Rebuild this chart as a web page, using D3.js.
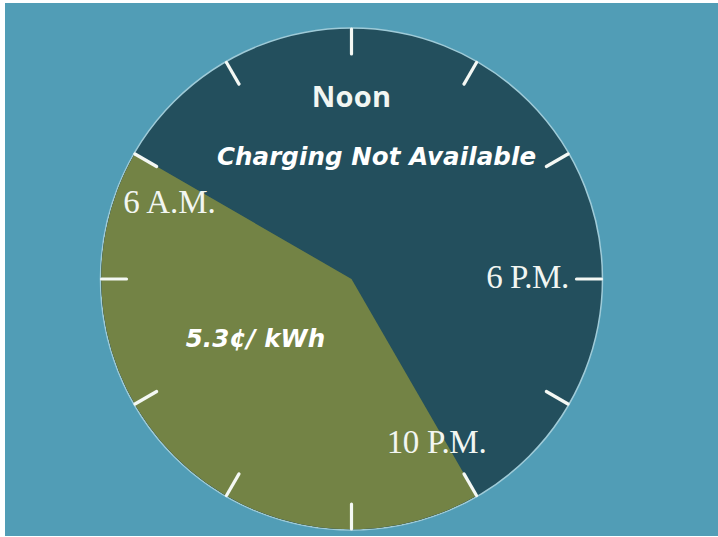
<!DOCTYPE html>
<html><head><meta charset="utf-8">
<script src="https://cdn.jsdelivr.net/npm/d3@7"></script>
<style>html,body{margin:0;padding:0;background:#fff;}svg{display:block;}</style>
</head><body>
<svg id="c" width="718" height="537"></svg>
<script>
// ---- data ----
const segmentNames = ["Charging Not Available", "5.3¢/ kWh"];
const segmentStart = [8, 22];   // hour of day
const segmentEnd   = [22, 32];  // 32 = 8 A.M. next day
const tickHours = [0, 2, 4, 6, 8, 10, 12, 14, 16, 18, 20, 22];
const hourLabels = ["Noon", "6 P.M.", "10 P.M.", "6 A.M."];
const hourLabelHours = [12, 18, 22, 6];

// ---- layout ----
const W = 718, H = 537;
const cx = 351.5, cy = 279, R = 251;
const svg = d3.select("#c");
svg.append("rect").attr("x", 5).attr("y", 3).attr("width", W - 5).attr("height", H - 4).attr("fill", "#519db6");

const angle = d3.scaleLinear().domain([12, 36]).range([0, 2 * Math.PI]);
const norm = h => (h < 12 ? h + 24 : h);
const colors = ["#234f5d", "#738345"];

const g = svg.append("g").attr("transform", `translate(${cx},${cy})`);
g.append("circle").attr("r", R).attr("fill", colors[0]).attr("stroke", "#9fcbd8").attr("stroke-width", 1.5);

const arc = d3.arc().innerRadius(0).outerRadius(R - 0.7);
const segs = segmentNames.map((n, i) => ({ name: n, startAngle: angle(norm(segmentStart[i])), endAngle: angle(norm(segmentEnd[i])), i }));
g.selectAll("path.seg").data(segs).join("path").attr("class", "seg")
  .attr("d", arc).attr("fill", d => colors[d.i]);

// ticks
g.selectAll("line.tick").data(tickHours).join("line").attr("class", "tick")
  .each(function (h) {
    const a = angle(norm(h));
    const s = Math.sin(a), c = -Math.cos(a);
    d3.select(this).attr("x1", s * (R - 26)).attr("y1", c * (R - 26))
      .attr("x2", s * (R - 1)).attr("y2", c * (R - 1));
  })
  .attr("stroke", "#f4f8f4").attr("stroke-width", 3.2).attr("stroke-linecap", "round");

// hour labels
const labelStyle = {
  12: { font: "'Open Sans', sans-serif", size: 29, weight: 700, ls: 0.3 },
  18: { font: "'Liberation Serif', serif", size: 33, weight: 400, ls: -0.5 },
  22: { font: "'Liberation Serif', serif", size: 33, weight: 400, ls: -0.3 },
  6:  { font: "'Liberation Serif', serif", size: 33, weight: 400, ls: 0 }
};
const labelPos = { 12: [0, -172], 18: [176, 9], 22: [85, 174], 6: [-182, -66] };
hourLabels.forEach((t, i) => {
  const h = hourLabelHours[i], st = labelStyle[h], p = labelPos[h];
  g.append("text").attr("x", p[0]).attr("y", p[1]).attr("text-anchor", "middle")
    .attr("font-family", st.font).attr("font-size", st.size).attr("font-weight", st.weight)
    .attr("letter-spacing", st.ls)
    .attr("fill", "#f2f6f2").text(t);
});

// segment labels
const segLabelPos = [[25, -114], [-96, 68]];
segs.forEach((d, i) => {
  g.append("text").attr("x", segLabelPos[i][0]).attr("y", segLabelPos[i][1]).attr("text-anchor", "middle")
    .attr("font-family", "'DejaVu Sans', sans-serif").attr("font-style", "oblique").attr("font-weight", 700)
    .attr("font-size", 24.5).attr("letter-spacing", 0.1).attr("fill", "#ffffff").text(d.name);
});
</script>
</body></html>
